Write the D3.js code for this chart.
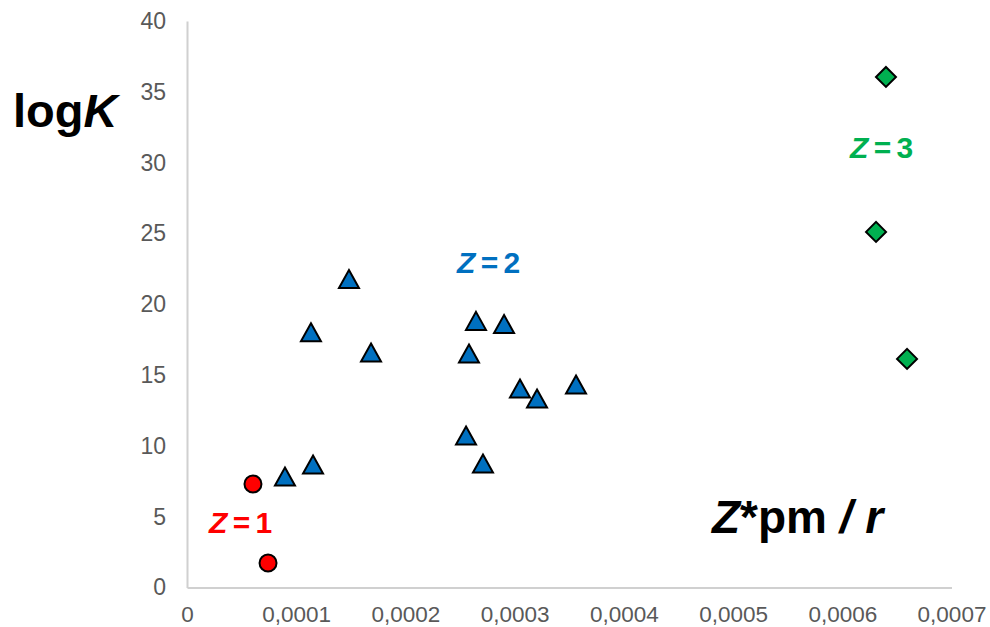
<!DOCTYPE html>
<html>
<head>
<meta charset="utf-8">
<script src="https://cdn.jsdelivr.net/npm/d3@7"></script>
<style>
  body { margin: 0; background: #fff; }
  svg { display: block; font-family: "Liberation Sans", Arial, sans-serif; }
</style>
</head>
<body>
<div id="chart"></div>
<script>
// series values: [Z*pm/r, logK]
const z1Points = [[0.0000604, 7.31], [0.0000742, 1.73]]
const z2Points = [
  [0.0000897, 7.80], [0.0001154, 8.65], [0.0001135, 17.99], [0.0001483, 21.74],
  [0.0001685, 16.56], [0.0002555, 10.70], [0.0002582, 16.49], [0.0002646, 18.79],
  [0.0002710, 8.72], [0.0002903, 18.57], [0.0003049, 14.02], [0.0003205, 13.31],
  [0.0003562, 14.30]
]
const z3Points = [[0.0006400, 36.05], [0.0006309, 25.11], [0.0006593, 16.14]]

const xTicks = [0, 0.0001, 0.0002, 0.0003, 0.0004, 0.0005, 0.0006, 0.0007]
const yTicks = [0, 5, 10, 15, 20, 25, 30, 35, 40]
const groupNames = ['1', '2', '3']

const width = 990, height = 627
const margin = { top: 21, right: 38.5, bottom: 39.5, left: 187 }

const x = d3.scaleLinear()
  .domain([0, 0.0007])
  .range([margin.left, width - margin.right])
const y = d3.scaleLinear()
  .domain([0, 40])
  .range([height - margin.bottom, margin.top])

const svg = d3.select('#chart').append('svg')
  .attr('width', width)
  .attr('height', height)

// axes, no tick marks, only the lines and labels
const fmt = d => d === 0 ? '0' : d3.format('.4f')(d).replace('.', ',')

const xAxis = svg.append('g')
  .attr('transform', `translate(0, ${y(0)})`)
  .call(d3.axisBottom(x).tickValues(xTicks).tickFormat(fmt).tickSize(0).tickPadding(18.5))
const yAxis = svg.append('g')
  .attr('transform', `translate(${x(0)}, 0)`)
  .call(d3.axisLeft(y).tickValues(yTicks).tickSize(0).tickPadding(21))

for (const ax of [xAxis, yAxis]) {
  ax.select('.domain').attr('stroke', '#d0d0d0').attr('stroke-width', 2)
  ax.selectAll('text')
    .attr('fill', '#595959')
    .style('font-family', '"Liberation Sans", Arial, sans-serif')
}
yAxis.selectAll('text').style('font-size', '23px')
xAxis.selectAll('text').style('font-size', '22.5px')

// markers
svg.append('g').selectAll('circle')
  .data(z1Points)
  .join('circle')
  .attr('cx', d => x(d[0]))
  .attr('cy', d => y(d[1]))
  .attr('r', 8.5)
  .attr('fill', '#ff0000')
  .attr('stroke', '#000')
  .attr('stroke-width', 2)

// triangle: bounding box centred on the point
svg.append('g').selectAll('path')
  .data(z2Points)
  .join('path')
  .attr('d', 'M0,-9.5 L10,8.5 L-10,8.5 Z')
  .attr('transform', d => `translate(${x(d[0])}, ${y(d[1])})`)
  .attr('fill', '#0070c0')
  .attr('stroke', '#000')
  .attr('stroke-width', 2)

svg.append('g').selectAll('path')
  .data(z3Points)
  .join('path')
  .attr('d', 'M0,-10 L10,0 L0,10 L-10,0 Z')
  .attr('transform', d => `translate(${x(d[0])}, ${y(d[1])})`)
  .attr('fill', '#00b050')
  .attr('stroke', '#000')
  .attr('stroke-width', 2)

// group labels
const labels = [
  { name: groupNames[0], color: '#ff0000', px: 209, py: 533 },
  { name: groupNames[1], color: '#0070c0', px: 457, py: 273 },
  { name: groupNames[2], color: '#00b050', px: 850, py: 158 }
]
labels.forEach(l => {
  const t = svg.append('text')
    .attr('x', l.px)
    .attr('y', l.py)
    .attr('fill', l.color)
    .style('font-size', '30px')
    .style('font-weight', 'bold')
    .style('letter-spacing', '-1.5px')
  t.append('tspan').style('font-style', 'italic').text('Z')
  t.append('tspan').text(' = ' + l.name)
})

// axis titles
const yt = svg.append('text')
  .attr('x', 13)
  .attr('y', 127)
  .attr('fill', '#000')
  .style('font-size', '47px')
  .style('font-weight', 'bold')
yt.append('tspan').text('log')
yt.append('tspan').style('font-style', 'italic').text('K')

const xt = svg.append('text')
  .attr('x', 712)
  .attr('y', 533)
  .attr('fill', '#000')
  .style('font-size', '46px')
  .style('font-weight', 'bold')
xt.append('tspan').style('font-style', 'italic').text('Z')
xt.append('tspan').text('*pm ')
xt.append('tspan').style('font-style', 'italic').text('/ r')
</script>
</body>
</html>
